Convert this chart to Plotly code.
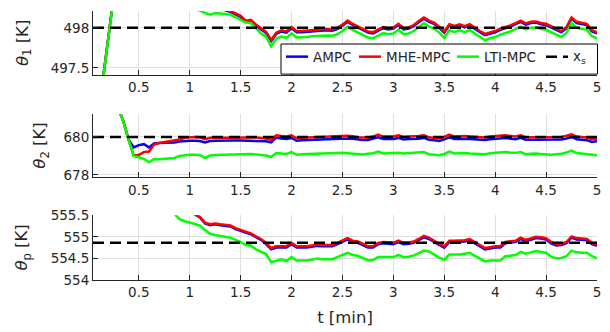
import numpy as np
import plotly.graph_objects as go

# time [min], sampling 0.05 min
t = np.round(np.arange(1, 101) * 0.05, 2)

# theta_1 [K]
ampc_1 = [496.40, 496.90, 497.40, 497.89, 498.36, 498.78, 499.08, 499.22, 499.27, 499.25,
          499.19, 499.12, 499.02, 498.92, 498.82, 498.73, 498.66, 498.58, 498.52, 498.46,
          498.41, 498.36, 498.32, 498.29, 498.27, 498.25, 498.22, 498.20, 498.165, 498.135,
          498.075, 498.085, 498.025, 497.975, 497.935, 497.835, 497.925, 497.955, 497.94, 497.995,
          497.945, 497.945, 497.95, 497.96, 497.965, 497.97, 497.97, 497.965, 497.985, 498.025,
          498.075, 498.035, 498.005, 497.975, 497.94, 497.93, 497.96, 497.995, 497.98, 497.99,
          498.035, 497.98, 497.99, 498.02, 498.07, 498.115, 498.075, 498.05, 498.00, 497.94,
          498.03, 498.01, 498.03, 498.005, 498.03, 497.985, 497.945, 497.91, 497.93, 497.945,
          497.975, 497.995, 498.015, 498.045, 498.075, 498.04, 498.06, 498.065, 498.045, 498.035,
          498.005, 497.965, 497.945, 497.995, 498.115, 498.06, 498.05, 498.035, 497.955, 497.93]
mhe_1 = [496.40, 496.90, 497.40, 497.89, 498.37, 498.80, 499.10, 499.25, 499.30, 499.28,
         499.22, 499.15, 499.05, 498.95, 498.85, 498.75, 498.68, 498.60, 498.54, 498.48,
         498.43, 498.38, 498.34, 498.31, 498.29, 498.27, 498.24, 498.215, 498.18, 498.15,
         498.09, 498.10, 498.04, 497.99, 497.95, 497.85, 497.94, 497.97, 497.955, 498.01,
         497.96, 497.96, 497.965, 497.975, 497.98, 497.985, 497.985, 497.98, 498.00, 498.04,
         498.09, 498.05, 498.02, 497.99, 497.955, 497.945, 497.975, 498.01, 497.995, 498.005,
         498.05, 497.995, 498.005, 498.035, 498.085, 498.13, 498.09, 498.065, 498.015, 497.955,
         498.045, 498.025, 498.045, 498.02, 498.045, 498.00, 497.96, 497.925, 497.945, 497.96,
         497.99, 498.01, 498.03, 498.06, 498.09, 498.055, 498.075, 498.08, 498.06, 498.05,
         498.02, 497.98, 497.96, 498.01, 498.13, 498.075, 498.065, 498.05, 497.97, 497.945]
lti_1 = [496.40, 496.90, 497.40, 497.89, 498.35, 498.70, 498.90, 498.98, 498.97, 498.90,
         498.80, 498.70, 498.60, 498.52, 498.45, 498.39, 498.34, 498.30, 498.27, 498.25,
         498.23, 498.215, 498.185, 498.165, 498.185, 498.175, 498.172, 498.165, 498.135, 498.10,
         498.065, 498.06, 497.99, 497.93, 497.89, 497.77, 497.865, 497.89, 497.875, 497.93,
         497.88, 497.88, 497.885, 497.895, 497.90, 497.905, 497.905, 497.90, 497.92, 497.96,
         498.015, 497.975, 497.945, 497.915, 497.88, 497.87, 497.90, 497.935, 497.92, 497.93,
         497.975, 497.92, 497.93, 497.96, 498.01, 498.06, 498.015, 497.99, 497.94, 497.875,
         497.97, 497.95, 497.97, 497.945, 497.97, 497.925, 497.885, 497.845, 497.87, 497.885,
         497.915, 497.935, 497.955, 497.985, 498.015, 497.98, 498.00, 498.005, 497.985, 497.975,
         497.945, 497.905, 497.885, 497.935, 498.06, 498.00, 497.99, 497.975, 497.895, 497.87]

# theta_2 [K]
ampc_2 = [686.0, 685.0, 684.0, 683.0, 682.2, 681.5, 680.8, 679.85, 679.45, 679.57,
          679.62, 679.45, 679.66, 679.68, 679.69, 679.69, 679.71, 679.76, 679.79, 679.80,
          679.80, 679.79, 679.71, 679.79, 679.80, 679.81, 679.81, 679.81, 679.81, 679.81,
          679.81, 679.81, 679.81, 679.80, 679.77, 679.71, 679.97, 679.92, 679.89, 679.95,
          679.80, 679.83, 679.84, 679.86, 679.87, 679.88, 679.89, 679.90, 679.90, 679.91,
          679.92, 679.90, 679.85, 679.84, 679.84, 679.89, 679.98, 679.89, 679.89, 679.89,
          679.95, 679.87, 679.89, 679.89, 679.91, 679.95, 679.85, 679.82, 679.79, 679.87,
          679.98, 679.89, 679.91, 679.91, 679.89, 679.87, 679.85, 679.84, 679.88, 679.91,
          679.92, 679.95, 679.91, 679.88, 679.95, 679.85, 679.85, 679.85, 679.85, 679.84,
          679.84, 679.86, 679.87, 679.92, 680.00, 679.88, 679.86, 679.83, 679.74, 679.77]
mhe_2 = [686.0, 685.0, 684.0, 683.0, 682.2, 681.5, 680.8, 679.85, 679.03, 679.05,
         679.20, 679.23, 679.60, 679.68, 679.73, 679.76, 679.80, 679.86, 679.96, 679.98,
         680.00, 679.98, 679.88, 679.96, 679.97, 679.97, 679.96, 679.96, 679.97, 679.96,
         679.96, 679.97, 679.97, 679.95, 679.92, 679.85, 680.09, 680.05, 680.02, 680.09,
         679.93, 679.96, 679.97, 680.00, 680.02, 680.02, 680.04, 680.05, 680.05, 680.05,
         680.06, 680.04, 679.98, 679.97, 679.97, 680.02, 680.12, 680.02, 680.02, 680.02,
         680.085, 680.00, 680.02, 680.02, 680.05, 680.085, 679.98, 679.95, 679.92, 680.00,
         680.12, 680.02, 680.05, 680.05, 680.03, 680.00, 679.98, 679.97, 680.02, 680.05,
         680.06, 680.085, 680.05, 680.02, 680.085, 679.98, 679.98, 679.98, 679.98, 679.97,
         679.97, 679.99, 680.00, 680.06, 680.14, 680.02, 680.00, 679.97, 679.88, 679.91]
lti_2 = [686.0, 685.0, 684.0, 683.0, 682.2, 681.5, 680.8, 679.85, 679.00, 678.93,
         678.84, 678.66, 678.84, 678.82, 678.84, 678.85, 678.89, 679.00, 679.05, 679.06,
         679.06, 679.05, 678.89, 679.02, 679.05, 679.06, 679.06, 679.06, 679.07, 679.09,
         679.10, 679.10, 679.08, 679.06, 679.02, 678.94, 679.15, 679.12, 679.10, 679.20,
         679.06, 679.09, 679.10, 679.11, 679.11, 679.12, 679.14, 679.16, 679.17, 679.16,
         679.14, 679.11, 679.08, 679.07, 679.11, 679.14, 679.23, 679.13, 679.14, 679.15,
         679.16, 679.13, 679.14, 679.16, 679.18, 679.20, 679.09, 679.05, 679.03, 679.10,
         679.23, 679.13, 679.15, 679.15, 679.13, 679.11, 679.09, 679.09, 679.14, 679.16,
         679.18, 679.20, 679.17, 679.16, 679.20, 679.09, 679.11, 679.13, 679.10, 679.08,
         679.06, 679.09, 679.11, 679.18, 679.28, 679.15, 679.12, 679.11, 679.05, 679.03]

# theta_p [K]
ampc_3 = [557.5, 557.4, 557.2, 557.0, 556.8, 556.6, 556.45, 556.3, 556.19, 556.09,
          555.99, 555.91, 555.84, 555.79, 555.74, 555.70, 555.66, 555.63, 555.59, 555.56,
          555.52, 555.45, 555.31, 555.27, 555.29, 555.27, 555.25, 555.24, 555.18, 555.14,
          555.09, 555.06, 554.99, 554.93, 554.83, 554.71, 554.75, 554.75, 554.75, 554.83,
          554.75, 554.75, 554.75, 554.77, 554.79, 554.78, 554.78, 554.78, 554.83, 554.89,
          554.94, 554.88, 554.86, 554.81, 554.75, 554.75, 554.83, 554.85, 554.84, 554.83,
          554.88, 554.83, 554.84, 554.86, 554.92, 554.99, 554.95, 554.87, 554.81, 554.75,
          554.88, 554.88, 554.88, 554.89, 554.92, 554.85, 554.77, 554.71, 554.73, 554.75,
          554.75, 554.85, 554.87, 554.88, 554.95, 554.90, 554.93, 554.97, 554.96, 554.94,
          554.85, 554.80, 554.81, 554.85, 554.98, 554.94, 554.93, 554.92, 554.83, 554.79]
mhe_3 = [557.5, 557.4, 557.2, 557.0, 556.8, 556.6, 556.45, 556.3, 556.2, 556.1,
         556.0, 555.92, 555.85, 555.8, 555.75, 555.71, 555.67, 555.64, 555.6, 555.57,
         555.53, 555.46, 555.33, 555.29, 555.31, 555.29, 555.27, 555.26, 555.2, 555.16,
         555.11, 555.08, 555.01, 554.95, 554.86, 554.74, 554.78, 554.78, 554.78, 554.86,
         554.78, 554.78, 554.78, 554.80, 554.82, 554.81, 554.81, 554.81, 554.86, 554.92,
         554.97, 554.91, 554.89, 554.84, 554.78, 554.78, 554.86, 554.88, 554.87, 554.86,
         554.91, 554.86, 554.87, 554.89, 554.95, 555.02, 554.98, 554.90, 554.84, 554.78,
         554.91, 554.91, 554.91, 554.92, 554.95, 554.88, 554.80, 554.74, 554.76, 554.78,
         554.78, 554.88, 554.90, 554.91, 554.98, 554.93, 554.96, 555.00, 554.99, 554.97,
         554.88, 554.83, 554.84, 554.88, 555.01, 554.97, 554.96, 554.95, 554.86, 554.82]
lti_3 = [557.5, 557.3, 557.0, 556.75, 556.5, 556.3, 556.15, 556.02, 555.93, 555.86,
         555.80, 555.75, 555.70, 555.66, 555.62, 555.58, 555.53, 555.41, 555.36, 555.33,
         555.30, 555.26, 555.16, 555.07, 555.04, 555.02, 555.00, 554.98, 554.93, 554.88,
         554.81, 554.80, 554.71, 554.66, 554.60, 554.41, 554.45, 554.48, 554.44, 554.53,
         554.45, 554.45, 554.45, 554.47, 554.50, 554.48, 554.48, 554.48, 554.53, 554.58,
         554.63, 554.58, 554.56, 554.51, 554.46, 554.46, 554.53, 554.53, 554.53, 554.53,
         554.58, 554.53, 554.54, 554.57, 554.62, 554.68, 554.66, 554.58, 554.52, 554.47,
         554.59, 554.59, 554.59, 554.61, 554.63, 554.56, 554.49, 554.43, 554.45, 554.45,
         554.45, 554.55, 554.56, 554.58, 554.65, 554.61, 554.64, 554.67, 554.65, 554.63,
         554.54, 554.50, 554.51, 554.55, 554.68, 554.64, 554.63, 554.63, 554.55, 554.50]

# steady-state targets x_s
xs = [498.0, 680.0, 554.865]

y_titles = ["<i>θ</i><sub>1</sub> [K]", "<i>θ</i><sub>2</sub> [K]", "<i>θ</i><sub>p</sub> [K]"]
y_ranges = [[497.41, 498.21], [677.867, 681.215], [554.0, 555.5]]
y_ticks = [[497.5, 498], [678, 680], [554, 554.5, 555, 555.5]]
y_domains = [[0.7617, 1.0], [0.3816, 0.6173], [0.0, 0.2408]]
x_ticks = [0.5, 1, 1.5, 2, 2.5, 3, 3.5, 4, 4.5, 5]
x_ticktext = ["0.5", "1", "1.5", "2", "2.5", "3", "3.5", "4", "4.5", "5"]

series = [(ampc_1, mhe_1, lti_1), (ampc_2, mhe_2, lti_2), (ampc_3, mhe_3, lti_3)]
names = ["AMPC", "MHE-MPC", "LTI-MPC"]
colors = ["#0000ff", "#ff0000", "#00ff00"]
legend_labels = names + ["x<sub>s</sub>"]

FONT = "DejaVu Sans"
FS = 13.5
FS_LABEL = 16.5
AX = "#262626"
GRID = "#e0e0e0"
W, H = 610, 332
ML, MR, MT, MB = 93, 13, 3, 52
PW, PH = W - ML - MR, H - MT - MB


def px_x(px):
    return (px - ML) / PW


def px_y(py):
    return (H - MB - py) / PH


fig = go.Figure()
for i, panel in enumerate(series):
    xa = "x" if i == 0 else f"x{i+1}"
    ya = "y" if i == 0 else f"y{i+1}"
    for j, yvals in enumerate(panel):
        fig.add_trace(go.Scatter(x=t, y=yvals, mode="lines", name=names[j],
                                 line=dict(color=colors[j], width=2.5),
                                 xaxis=xa, yaxis=ya, showlegend=False))
    fig.add_trace(go.Scatter(x=[t[0], t[-1]], y=[xs[i], xs[i]], mode="lines",
                             name="x<sub>s</sub>",
                             line=dict(color="black", width=2.5, dash="11px,6px"),
                             xaxis=xa, yaxis=ya, showlegend=False))

layout = dict(
    width=W, height=H,
    margin=dict(l=ML, r=MR, t=MT, b=MB),
    paper_bgcolor="white", plot_bgcolor="white",
    font=dict(family=FONT, size=FS, color=AX),
    showlegend=False,
)
for i in range(3):
    xk = "xaxis" if i == 0 else f"xaxis{i+1}"
    yk = "yaxis" if i == 0 else f"yaxis{i+1}"
    ya = "y" if i == 0 else f"y{i+1}"
    xa = "x" if i == 0 else f"x{i+1}"
    layout[xk] = dict(domain=[0, 1], anchor=ya, range=[0.05, 5],
                      tickmode="array", tickvals=x_ticks, ticktext=x_ticktext,
                      ticks="inside", ticklen=5, tickcolor=AX, tickwidth=1,
                      showline=True, linecolor=AX, linewidth=1,
                      showgrid=True, gridcolor=GRID, gridwidth=1, zeroline=False,
                      tickfont=dict(family=FONT, size=FS, color=AX))
    if i == 2:
        layout[xk]["title"] = dict(text="t [min]",
                                   font=dict(family=FONT, size=FS_LABEL, color=AX),
                                   standoff=12)
    layout[yk] = dict(domain=y_domains[i], anchor=xa, range=y_ranges[i],
                      tickmode="array", tickvals=y_ticks[i],
                      ticktext=[("%g" % v) for v in y_ticks[i]],
                      ticks="inside", ticklen=5, tickcolor=AX, tickwidth=1,
                      showline=True, linecolor=AX, linewidth=1,
                      showgrid=True, gridcolor=GRID, gridwidth=1, zeroline=False,
                      tickfont=dict(family=FONT, size=FS, color=AX))
fig.update_layout(**layout)

# y-axis titles (rotated), placed as in the reference
title_px = [23, 41, 23]
for i in range(3):
    fig.add_annotation(text=y_titles[i], xref="paper", yref="paper",
                       x=px_x(title_px[i]), y=sum(y_domains[i]) / 2,
                       xanchor="center", yanchor="middle", textangle=-90,
                       showarrow=False, font=dict(family=FONT, size=FS_LABEL, color=AX))

# legend box drawn inside the top panel
leg_y = px_y(50)
fig.add_shape(type="rect", xref="paper", yref="paper",
              x0=px_x(281), x1=px_x(597.5), y0=px_y(68), y1=px_y(37),
              fillcolor="white", line=dict(color="black", width=1), layer="above")
line_starts = [286, 359, 457, 546]
text_starts = [311, 384, 482, 571]
for k in range(4):
    if k < 3:
        ln = dict(color=colors[k], width=2.5)
    else:
        ln = dict(color="black", width=2.5, dash="11px,6px")
    fig.add_shape(type="line", xref="paper", yref="paper",
                  x0=px_x(line_starts[k]), x1=px_x(line_starts[k] + 22),
                  y0=leg_y, y1=leg_y, line=ln, layer="above")
    fig.add_annotation(text=legend_labels[k], xref="paper", yref="paper",
                       x=px_x(text_starts[k]), y=leg_y, xanchor="left", yanchor="middle",
                       showarrow=False, font=dict(family=FONT, size=FS, color=AX))

fig.write_html("out.html")
